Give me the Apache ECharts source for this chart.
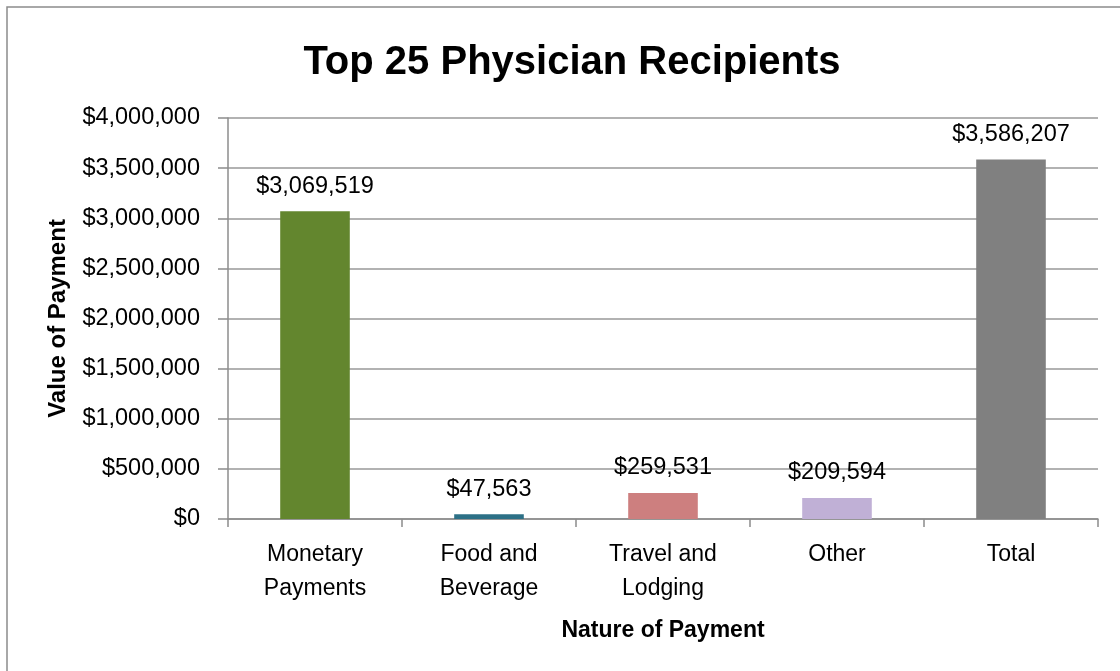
<!DOCTYPE html>
<html>
<head>
<meta charset="utf-8">
<script src="https://cdn.jsdelivr.net/npm/echarts@6/dist/echarts.min.js"></script>
<style>
html,body{margin:0;padding:0;background:#fff;}
#chart{width:1120px;height:671px;}
</style>
</head>
<body>
<div id="chart"></div>
<script>
const categories = ['Monetary\nPayments', 'Food and\nBeverage', 'Travel and\nLodging', 'Other', 'Total'];
const values = [3069519, 47563, 259531, 209594, 3586207];
const barColors = ['#63862E', '#2C7086', '#CD7F7F', '#C0B0D6', '#808080'];
const yMin = 0, yMax = 4000000, yStep = 500000;

const fmt = v => '$' + Math.round(v).toLocaleString('en-US');
const font = 'Liberation Sans';

const chart = echarts.init(document.getElementById('chart'), null, {renderer: 'canvas'});
chart.setOption({
  backgroundColor: '#fff',
  animation: false,
  graphic: [{
    type: 'rect', silent: true, z: -10,
    shape: {x: 7, y: 7, width: 1200, height: 700},
    style: {fill: 'none', stroke: '#8c8c8c', lineWidth: 1.5}
  }],
  title: {
    text: 'Top 25 Physician Recipients',
    left: 567, top: 38, textAlign: 'center',
    textStyle: {fontFamily: font, fontWeight: 'bold', fontSize: 40, color: '#000'}
  },
  grid: {left: 228, right: 22, top: 118, bottom: 152, containLabel: false},
  xAxis: {
    type: 'category',
    data: categories,
    name: 'Nature of Payment',
    nameLocation: 'middle',
    nameGap: 100,
    nameTextStyle: {fontFamily: font, fontWeight: 'bold', fontSize: 23, color: '#000'},
    axisLine: {lineStyle: {color: '#8c8c8c', width: 1.5}},
    axisTick: {show: true, alignWithLabel: false, length: 8, lineStyle: {color: '#8c8c8c', width: 1.5}},
    axisLabel: {fontFamily: font, fontSize: 23, color: '#000', margin: 19, lineHeight: 34, interval: 0}
  },
  yAxis: {
    type: 'value',
    min: yMin, max: yMax, interval: yStep,
    name: 'Value of Payment',
    nameLocation: 'middle',
    nameGap: 158,
    nameRotate: 90,
    nameTextStyle: {fontFamily: font, fontWeight: 'bold', fontSize: 24, color: '#000'},
    axisLine: {show: true, lineStyle: {color: '#8c8c8c', width: 1.5}},
    axisTick: {show: true, length: 10, lineStyle: {color: '#8c8c8c', width: 1.5}},
    splitLine: {lineStyle: {color: '#999', width: 1.5}},
    axisLabel: {fontFamily: font, fontSize: 23.5, color: '#000', margin: 28, formatter: fmt, padding: [3, 0, 0, 0]}
  },
  series: [{
    type: 'bar',
    barWidth: '40%',
    data: values.map((v, i) => ({value: v, itemStyle: {color: barColors[i]}})),
    label: {
      show: true, position: 'top', distance: 13,
      fontFamily: font, fontSize: 23.5, color: '#000',
      formatter: p => fmt(p.value)
    }
  }]
});
</script>
</body>
</html>
